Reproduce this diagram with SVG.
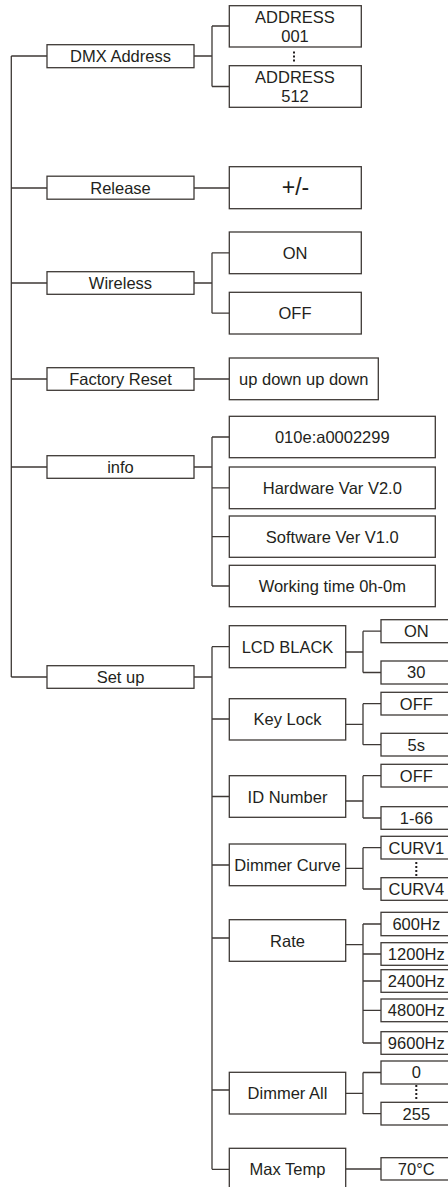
<svg xmlns="http://www.w3.org/2000/svg" width="448" height="1187" viewBox="0 0 448 1187">
<style>
.box{fill:#fff;stroke:#3e3936;stroke-width:1.3}
.ln{fill:none;stroke:#3e3936;stroke-width:1.3}
.dot{fill:none;stroke:#231f20;stroke-width:2;stroke-dasharray:2 2}
text{font-family:"Liberation Sans",Arial,sans-serif;font-size:16.5px;fill:#231f20;text-anchor:middle}
.big{font-size:23px}
</style>
<rect width="448" height="1187" fill="#fff"/>
<g id="connectors">
<path class="ln" d="M11.3,56 V677 M11.3,56 H47 M11.3,188 H47 M11.3,283 H47 M11.3,379 H47 M11.3,467 H47 M11.3,677 H47"/>
<path class="ln" d="M194,56 H212 M212,26 V86.5 M212,26 H229 M212,86.5 H229"/>
<path class="ln" d="M194,188 H229"/>
<path class="ln" d="M194,283 H212 M212,252.8 V313.2 M212,252.8 H229 M212,313.2 H229"/>
<path class="ln" d="M194,379 H229"/>
<path class="ln" d="M194,467 H212 M212,437 V586 M212,437 H229 M212,487.8 H229 M212,536.7 H229 M212,586 H229"/>
<path class="ln" d="M194,677 H212 M212,646.7 V1169.3 M212,646.7 H229.3 M212,719 H229.3 M212,796.5 H229.3 M212,865 H229.3 M212,938 H229.3 M212,1090 H229.3 M212,1169.3 H229.3"/>
<path class="ln" d="M345.7,652 H363 M363,631.2 V672.5 M363,631.2 H381 M363,672.5 H381"/>
<path class="ln" d="M345.7,724.3 H363 M363,703.7 V744.7 M363,703.7 H381 M363,744.7 H381"/>
<path class="ln" d="M345.7,801 H363 M363,775.7 V818 M363,775.7 H381 M363,818 H381"/>
<path class="ln" d="M345.7,868.3 H363 M363,847.7 V889 M363,847.7 H381 M363,889 H381"/>
<path class="ln" d="M345.7,944.7 H363 M363,924 V1043 M363,924 H381 M363,954 H381 M363,981 H381 M363,1010.3 H381 M363,1043 H381"/>
<path class="ln" d="M345.7,1093.3 H363 M363,1072.5 V1113.7 M363,1072.5 H381 M363,1113.7 H381"/>
<path class="ln" d="M345.7,1169 H381"/>
<path class="dot" d="M294,51.5 V63.5 M416.3,862 V878 M416.3,1085 V1101"/>
</g>
<g id="dmx-address"><rect class="box" x="47" y="44.7" width="147" height="23"/><text x="120.5" y="62">DMX Address</text></g>
<g id="address-001"><rect class="box" x="229.3" y="5.7" width="132" height="41.3"/><text x="295" y="22.7">ADDRESS</text><text x="295" y="41.7">001</text></g>
<g id="address-512"><rect class="box" x="229.3" y="65.7" width="132" height="41.6"/><text x="295" y="82.7">ADDRESS</text><text x="295" y="101.7">512</text></g>
<g id="release"><rect class="box" x="47" y="176.2" width="147" height="23"/><text x="120.5" y="193.8">Release</text></g>
<g id="plus-minus"><rect class="box" x="229.3" y="166.7" width="132" height="42"/><text class="big" x="295.5" y="194.5">+/-</text></g>
<g id="wireless"><rect class="box" x="47" y="271.7" width="147" height="22.6"/><text x="120.5" y="289">Wireless</text></g>
<g id="wireless-on"><rect class="box" x="229.3" y="232" width="132" height="41.7"/><text x="295" y="258.8">ON</text></g>
<g id="wireless-off"><rect class="box" x="229.3" y="292.3" width="132" height="41.7"/><text x="295" y="319.2">OFF</text></g>
<g id="factory-reset"><rect class="box" x="47" y="367.7" width="147" height="22.6"/><text x="120.5" y="385">Factory Reset</text></g>
<g id="up-down"><rect class="box" x="229.3" y="358" width="149" height="41.7"/><text x="303.7" y="384.5">up down up down</text></g>
<g id="info"><rect class="box" x="47" y="455.7" width="147" height="22.6"/><text x="120.5" y="473">info</text></g>
<g id="info-id"><rect class="box" x="229.3" y="416.3" width="206" height="41.4"/><text x="332.3" y="443">010e:a0002299</text></g>
<g id="info-hw"><rect class="box" x="229.3" y="467" width="206" height="41.7"/><text x="332.3" y="493.8">Hardware Var V2.0</text></g>
<g id="info-sw"><rect class="box" x="229.3" y="516" width="206" height="41.3"/><text x="332.3" y="542.7">Software Ver V1.0</text></g>
<g id="info-time"><rect class="box" x="229.3" y="565.3" width="206" height="41.4"/><text x="332.3" y="592">Working time 0h-0m</text></g>
<g id="set-up"><rect class="box" x="47" y="665.7" width="147" height="22.6"/><text x="120.5" y="683">Set up</text></g>
<g id="lcd-black"><rect class="box" x="229.3" y="625.7" width="116.4" height="42"/><text x="287.5" y="652.7">LCD BLACK</text></g>
<g id="lcd-on"><rect class="box" x="381" y="619.7" width="68" height="23"/><text x="416.3" y="637">ON</text></g>
<g id="lcd-30"><rect class="box" x="381" y="661" width="68" height="23"/><text x="416.3" y="678.3">30</text></g>
<g id="key-lock"><rect class="box" x="229.3" y="698.7" width="116.4" height="41.3"/><text x="287.5" y="725.3">Key Lock</text></g>
<g id="key-off"><rect class="box" x="381" y="692.3" width="68" height="22.7"/><text x="416.3" y="709.6">OFF</text></g>
<g id="key-5s"><rect class="box" x="381" y="733.3" width="68" height="22.7"/><text x="416.3" y="750.6">5s</text></g>
<g id="id-number"><rect class="box" x="229.3" y="775.7" width="116.4" height="41.6"/><text x="287.5" y="802.5">ID Number</text></g>
<g id="id-off"><rect class="box" x="381" y="764.3" width="68" height="22.7"/><text x="416.3" y="781.6">OFF</text></g>
<g id="id-range"><rect class="box" x="381" y="806.7" width="68" height="22.6"/><text x="416.3" y="824">1-66</text></g>
<g id="dimmer-curve"><rect class="box" x="229.3" y="844" width="116.4" height="41.7"/><text x="287.5" y="870.8">Dimmer Curve</text></g>
<g id="curv1"><rect class="box" x="381" y="836.3" width="68" height="22.7"/><text x="416.3" y="853.6">CURV1</text></g>
<g id="curv4"><rect class="box" x="381" y="877.7" width="68" height="22.6"/><text x="416.3" y="895">CURV4</text></g>
<g id="rate"><rect class="box" x="229.3" y="919.7" width="116.4" height="41.6"/><text x="287.5" y="946.5">Rate</text></g>
<g id="rate-600"><rect class="box" x="381" y="912.3" width="68" height="23.4"/><text x="416.3" y="930">600Hz</text></g>
<g id="rate-1200"><rect class="box" x="381" y="942.7" width="68" height="22.6"/><text x="416.3" y="960">1200Hz</text></g>
<g id="rate-2400"><rect class="box" x="381" y="969.7" width="68" height="22.6"/><text x="416.3" y="987">2400Hz</text></g>
<g id="rate-4800"><rect class="box" x="381" y="999" width="68" height="22.7"/><text x="416.3" y="1016.3">4800Hz</text></g>
<g id="rate-9600"><rect class="box" x="381" y="1031.7" width="68" height="22.6"/><text x="416.3" y="1049">9600Hz</text></g>
<g id="dimmer-all"><rect class="box" x="229.3" y="1072.3" width="116.4" height="41.7"/><text x="287.5" y="1099">Dimmer All</text></g>
<g id="dim-0"><rect class="box" x="381" y="1061" width="68" height="23"/><text x="416.3" y="1078.3">0</text></g>
<g id="dim-255"><rect class="box" x="381" y="1102.3" width="68" height="22.7"/><text x="416.3" y="1119.6">255</text></g>
<g id="max-temp"><rect class="box" x="229.3" y="1148.3" width="116.4" height="45"/><text x="287.5" y="1175">Max Temp</text></g>
<g id="temp-70"><rect class="box" x="381" y="1157.7" width="68" height="22.3"/><text x="416.3" y="1175">70°C</text></g>
</svg>
